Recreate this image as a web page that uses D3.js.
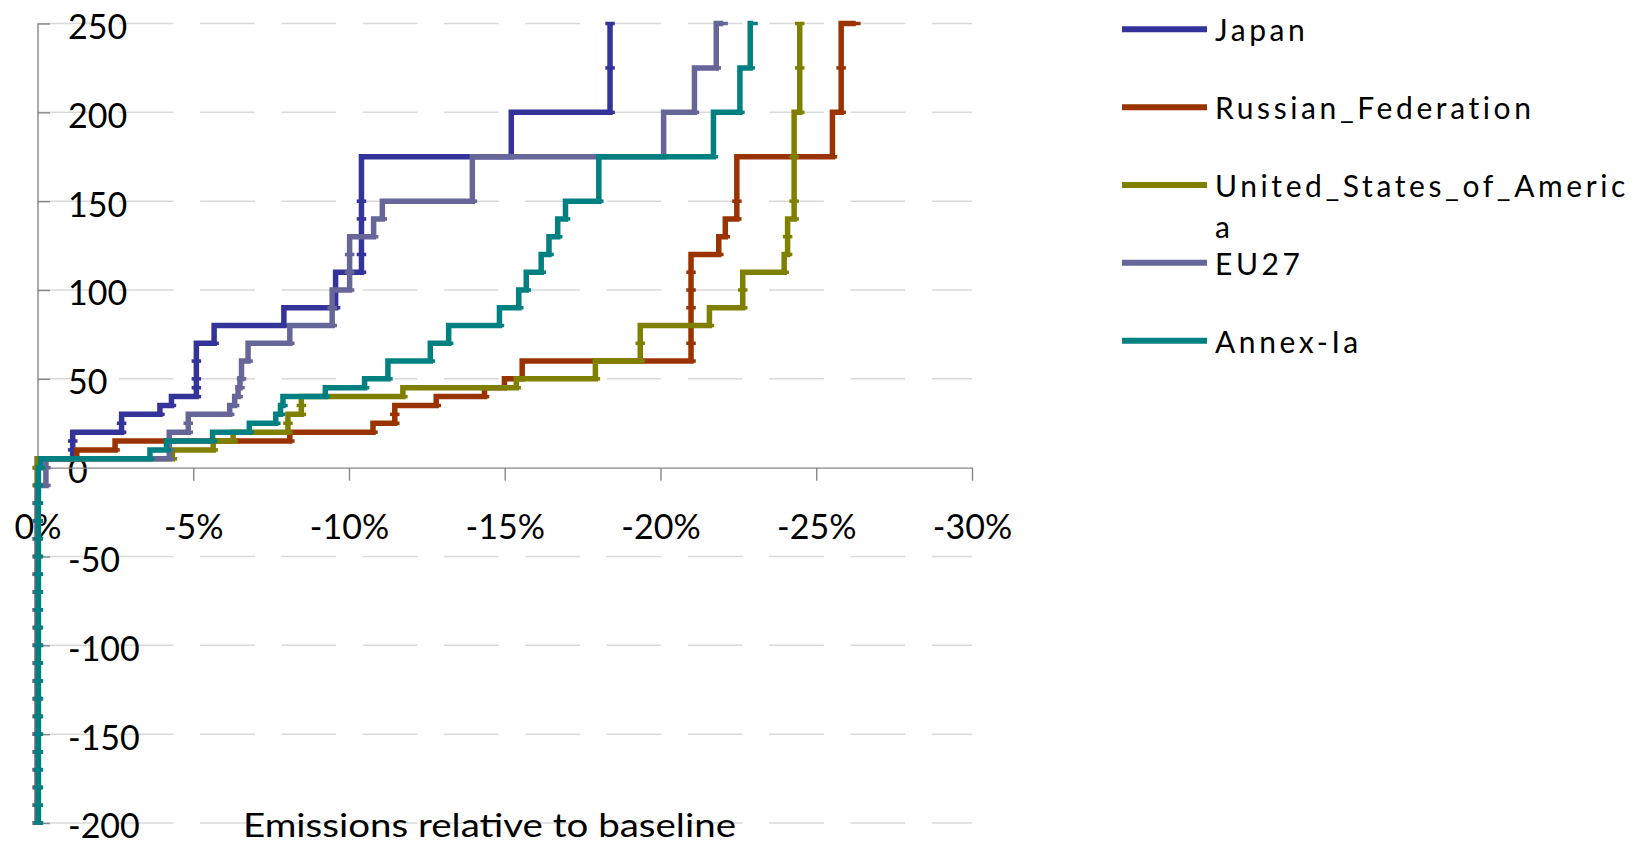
<!DOCTYPE html>
<html>
<head>
<meta charset="utf-8">
<script src="https://cdn.jsdelivr.net/npm/d3@7"></script>
<style>
	body { margin: 0; background: #fff; }
	text { font-family: Lato, "Open Sans", sans-serif; fill: #000; }
</style>
</head>
<body>
<div id="chart"></div>
<script>

// price levels (y) and emission change vs baseline in % (x) for each region
const prices = [-200, -190, -180, -170, -160, -150, -140, -130, -120, -110, -100, -90, -80, -70, -60, -50, -40, -30, -20, -10,
	0, 5, 10, 15, 20, 25, 30, 35, 40, 45, 50, 60, 70, 80, 90, 100, 110, 120, 130, 140, 150, 175, 200, 225, 250];

const japan = [0, 0, 0, 0, 0, 0, 0, 0, 0, 0, 0, 0, 0, 0, 0, 0, 0, 0, 0, 0,
	0, -1.13, -1.13, -1.13, -2.70, -2.70, -3.93, -4.30, -5.10, -5.10, -5.10, -5.10, -5.67, -7.91, -9.57, -9.57, -10.40, -10.40, -10.40, -10.40, -10.40, -15.21, -18.38, -18.38, -18.38];

const russia = [0, 0, 0, 0, 0, 0, 0, 0, 0, 0, 0, 0, 0, 0, 0, 0, 0, 0, 0, 0,
	0, -1.26, -2.49, -8.10, -10.77, -11.47, -11.47, -12.80, -14.35, -14.99, -15.56, -20.98, -20.98, -20.98, -20.98, -20.98, -20.98, -21.87, -22.08, -22.45, -22.45, -25.52, -25.80, -25.80, -26.27];

const usa = [0, 0, 0, 0, 0, 0, 0, 0, 0, 0, 0, 0, 0, 0, 0, 0, 0, 0, 0, 0,
	0, -4.33, -5.64, -6.28, -8.04, -8.04, -8.47, -8.47, -11.73, -15.37, -17.91, -19.35, -19.35, -21.57, -22.64, -22.64, -23.97, -24.08, -24.08, -24.29, -24.29, -24.29, -24.47, -24.47, -24.47];

const eu27 = [0, 0, 0, 0, 0, 0, 0, 0, 0, 0, 0, 0, 0, 0, 0, 0, 0, 0, 0, -0.27,
	-0.27, -4.23, -4.23, -4.23, -4.84, -4.84, -6.17, -6.33, -6.44, -6.50, -6.55, -6.76, -8.10, -9.46, -9.46, -10.02, -10.02, -10.02, -10.79, -11.07, -13.96, -20.10, -21.09, -21.79, -22.01];

const annex = [-0.03, -0.03, -0.03, -0.03, -0.03, -0.03, -0.03, -0.03, -0.03, -0.03, -0.03, -0.03, -0.03, -0.03, -0.03, -0.03, -0.03, -0.03, -0.03, -0.03,
	-0.1, -3.61, -4.14, -5.62, -6.80, -7.65, -7.80, -7.88, -9.24, -10.50, -11.25, -12.61, -13.20, -14.83, -15.45, -15.69, -16.17, -16.42, -16.70, -16.95, -18.02, -21.70, -22.55, -22.88, -22.97];

const seriesNames = ["Japan", "Russian_Federation", "United_States_of_America", "EU27", "Annex-Ia"];
const xTicks = [0, -5, -10, -15, -20, -25, -30];
const yTicks = [-200, -150, -100, -50, 0, 50, 100, 150, 200, 250];
const xTitle = "Emissions relative to baseline";

const colors = ["#333399", "#993300", "#808000", "#666699", "#008080"];


class StepChart {

	constructor(parentElement) {
		this.parentElement = parentElement;
		this.initVis();
	}

	initVis() {
		let vis = this;

		vis.width = 1642;
		vis.height = 845;

		vis.svg = d3.select("#" + vis.parentElement).append("svg")
			.attr("width", vis.width)
			.attr("height", vis.height);

		vis.x = d3.scaleLinear().domain([0, -30]).range([37.5, 972]);
		vis.y = d3.scaleLinear().domain([-200, 250]).range([823, 23.5]);

		vis.wrangleData();
	}

	wrangleData() {
		let vis = this;

		let values = [japan, russia, usa, eu27, annex];
		vis.series = seriesNames.map((name, i) => ({
			name: name,
			color: colors[i],
			points: prices.map((p, j) => ({p: p, r: values[i][j]}))
		}));

		vis.updateVis();
	}

	updateVis() {
		let vis = this;
		let x = vis.x, y = vis.y;

		// dashed gridlines
		vis.svg.append("g").selectAll("line")
			.data(yTicks.filter(d => d !== 0))
			.join("line")
			.attr("x1", x(0)).attr("x2", x(-30))
			.attr("y1", d => y(d)).attr("y2", d => y(d))
			.attr("stroke", "#d9d9d9")
			.attr("stroke-width", 1.5)
			.attr("stroke-dasharray", "54.7 26.6");

		// y axis, ticks pointing into the plot, labels inside
		let yAxis = vis.svg.append("g")
			.attr("transform", "translate(" + x(0) + ",0)")
			.call(d3.axisRight(y).tickValues(yTicks).tickSize(12.5).tickSizeOuter(0)
				.tickFormat(d => String(d)));
		yAxis.select(".domain").attr("stroke", "#868686").attr("stroke-width", 1.4);
		yAxis.selectAll(".tick line").attr("stroke", "#868686").attr("stroke-width", 1.4);
		yAxis.selectAll(".tick text")
			.attr("x", 30.5)
			.attr("dy", "0.44em")
			.style("font-size", "34px")
			.style("font-family", "Lato")
			.attr("fill", "#000");

		// x axis at zero
		let xAxis = vis.svg.append("g")
			.attr("transform", "translate(0," + y(0) + ")")
			.call(d3.axisBottom(x).tickValues(xTicks).tickSize(13).tickSizeOuter(0)
				.tickFormat(d => d + "%"));
		xAxis.select(".domain").attr("stroke", "#868686").attr("stroke-width", 1.4);
		xAxis.selectAll(".tick line").attr("stroke", "#868686").attr("stroke-width", 1.4);
		xAxis.selectAll(".tick text")
			.attr("y", 0)
			.attr("dy", 0)
			.attr("transform", "translate(0,71)")
			.style("font-size", "34px")
			.style("font-family", "Lato")
			.attr("fill", "#000");

		vis.svg.append("text")
			.attr("x", 489.5)
			.attr("y", 837)
			.attr("text-anchor", "middle")
			.style("font-size", "33px")
			.attr("textLength", 493)
			.attr("lengthAdjust", "spacingAndGlyphs")
			.text(xTitle);

		// step lines
		let line = d3.line()
			.x(d => x(d.r))
			.y(d => y(d.p))
			.curve(d3.curveStepBefore);

		vis.series.forEach(s => {
			let g = vis.svg.append("g");
			g.append("path")
				.datum(s.points)
				.attr("d", line)
				.attr("fill", "none")
				.attr("stroke", s.color)
				.attr("stroke-width", 5.5)
				.attr("stroke-linejoin", "miter");
			g.selectAll("rect")
				.data(s.points)
				.join("rect")
				.attr("x", d => x(d.r) - 4.75)
				.attr("y", d => y(d.p) - 1.75)
				.attr("width", 9.5)
				.attr("height", 3.5)
				.attr("fill", s.color);
		});

		// legend
		let legend = vis.svg.append("g").selectAll("g")
			.data(vis.series)
			.join("g")
			.attr("transform", (d, i) => "translate(1122," + (29.3 + i * 77.85) + ")");

		legend.append("line")
			.attr("x1", 0).attr("x2", 85)
			.attr("stroke", d => d.color)
			.attr("stroke-width", 6);

		legend.append("text")
			.attr("x", 93)
			.attr("y", 12)
			.style("font-size", "30px")
			.style("letter-spacing", "3.6px")
			.selectAll("tspan")
			.data(d => d.name.match(/.{1,23}/g))
			.join("tspan")
			.attr("x", 93)
			.attr("dy", (d, i) => i === 0 ? 0 : 41)
			.text(d => d);
	}
}

new StepChart("chart");

</script>
</body>
</html>
